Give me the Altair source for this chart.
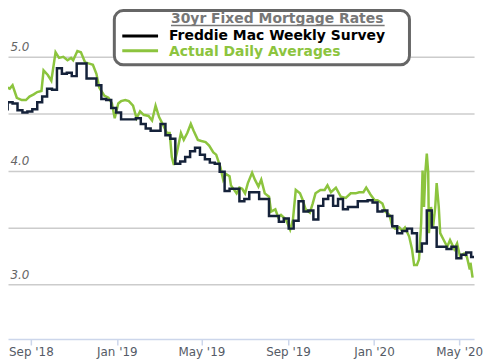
import altair as alt
import pandas as pd

# Freddie Mac weekly survey (week start dates, weekly)
freddie_start = "2018-07-16"
freddie_end = "2020-05-22"
freddie_values = [
    4.52, 4.54, 4.60, 4.59, 4.53, 4.51, 4.52, 4.54, 4.60, 4.65, 4.72, 4.71,
    4.90, 4.85, 4.86, 4.83, 4.94, 4.94, 4.81, 4.81, 4.75, 4.63, 4.62, 4.55,
    4.51, 4.45, 4.45, 4.45, 4.46, 4.41, 4.37, 4.35, 4.35, 4.41, 4.31, 4.28,
    4.06, 4.08, 4.12, 4.17, 4.20, 4.14, 4.10, 4.07, 4.06, 3.99, 3.82, 3.84,
    3.84, 3.73, 3.75, 3.81, 3.81, 3.75, 3.75, 3.60, 3.60, 3.55, 3.58, 3.49,
    3.56, 3.73, 3.64, 3.65, 3.57, 3.69, 3.75, 3.78, 3.69, 3.75, 3.66, 3.68,
    3.68, 3.73, 3.73, 3.74, 3.72, 3.64, 3.65, 3.60, 3.51, 3.45, 3.47, 3.49,
    3.45, 3.29, 3.36, 3.65, 3.50, 3.33, 3.33, 3.31, 3.33, 3.23, 3.26, 3.28,
    3.24,
]

# Actual daily averages
daily_dates = [
    "2018-07-19", "2018-07-26", "2018-08-02", "2018-08-06", "2018-08-12", "2018-08-19",
    "2018-08-25", "2018-08-30", "2018-09-05", "2018-09-10", "2018-09-16", "2018-09-19",
    "2018-09-25", "2018-09-30", "2018-10-06", "2018-10-11", "2018-10-17", "2018-10-23",
    "2018-10-28", "2018-10-31", "2018-11-06", "2018-11-11", "2018-11-17", "2018-11-23",
    "2018-11-28", "2018-12-03", "2018-12-07", "2018-12-14", "2018-12-20", "2018-12-25",
    "2018-12-29", "2019-01-03", "2019-01-07", "2019-01-13", "2019-01-18", "2019-01-24",
    "2019-01-29", "2019-02-03", "2019-02-08", "2019-02-15", "2019-02-20", "2019-02-25",
    "2019-03-02", "2019-03-07", "2019-03-13", "2019-03-17", "2019-03-20", "2019-03-23",
    "2019-03-27", "2019-04-02", "2019-04-06", "2019-04-11", "2019-04-16", "2019-04-20",
    "2019-04-26", "2019-05-01", "2019-05-07", "2019-05-12", "2019-05-18", "2019-05-22",
    "2019-05-28", "2019-06-01", "2019-06-05", "2019-06-10", "2019-06-12", "2019-06-20",
    "2019-06-24", "2019-06-28", "2019-07-02", "2019-07-06", "2019-07-12", "2019-07-16",
    "2019-07-21", "2019-07-25", "2019-07-30", "2019-08-05", "2019-08-08", "2019-08-14",
    "2019-08-18", "2019-08-22", "2019-08-29", "2019-09-04", "2019-09-08", "2019-09-12",
    "2019-09-18", "2019-09-22", "2019-09-26", "2019-10-02", "2019-10-06", "2019-10-10",
    "2019-10-17", "2019-10-23", "2019-10-27", "2019-11-01", "2019-11-08", "2019-11-15",
    "2019-11-22", "2019-11-29", "2019-12-06", "2019-12-11", "2019-12-17", "2019-12-21",
    "2019-12-27", "2020-01-02", "2020-01-06", "2020-01-13", "2020-01-17", "2020-01-23",
    "2020-01-27", "2020-01-31", "2020-02-06", "2020-02-10", "2020-02-14", "2020-02-20",
    "2020-02-24", "2020-02-27", "2020-03-02", "2020-03-05", "2020-03-08", "2020-03-10",
    "2020-03-12", "2020-03-14", "2020-03-16", "2020-03-18", "2020-03-19", "2020-03-22",
    "2020-03-25", "2020-03-28", "2020-03-30", "2020-04-02", "2020-04-04", "2020-04-09",
    "2020-04-14", "2020-04-18", "2020-04-24", "2020-04-28", "2020-05-02", "2020-05-08",
    "2020-05-12", "2020-05-16", "2020-05-17", "2020-05-20",
]
daily_values = [
    4.73, 4.74, 4.72, 4.75, 4.64, 4.62,
    4.62, 4.65, 4.67, 4.69, 4.70, 4.88,
    4.84, 4.79, 5.04, 4.99, 5.00, 4.97,
    4.99, 4.97, 5.05, 5.04, 4.95, 4.94,
    4.93, 4.85, 4.73, 4.66, 4.64, 4.59,
    4.46, 4.59, 4.61, 4.62, 4.61, 4.57,
    4.46, 4.52, 4.49, 4.48, 4.44, 4.57,
    4.47, 4.41, 4.33, 4.33, 4.12, 4.05,
    4.15, 4.33, 4.27, 4.33, 4.41, 4.35,
    4.27, 4.26, 4.25, 4.22, 4.16, 4.14,
    4.03, 3.92, 3.97, 3.95, 3.87, 3.80,
    3.85, 3.84, 3.80, 3.89, 3.98, 3.92,
    3.86, 3.92, 3.80, 3.77, 3.64, 3.66,
    3.59, 3.61, 3.57, 3.48, 3.57, 3.83,
    3.80, 3.74, 3.66, 3.63, 3.71, 3.80,
    3.83, 3.83, 3.87, 3.81, 3.85, 3.77,
    3.76, 3.80, 3.80, 3.81, 3.81, 3.85,
    3.79, 3.74, 3.74, 3.71, 3.64, 3.61,
    3.51, 3.49, 3.50, 3.47, 3.50, 3.42,
    3.31, 3.17, 3.17, 3.22, 3.54, 4.00,
    3.68, 3.99, 4.15, 3.98, 3.45, 3.68,
    3.51, 3.68, 3.89, 3.68, 3.45, 3.39,
    3.33, 3.39, 3.31, 3.36, 3.25, 3.27,
    3.24, 3.13, 3.19, 3.06,
]

tick_dates = [(2018, 9), (2019, 1), (2019, 5), (2019, 9), (2020, 1), (2020, 5)]
y_grid_values = [3.0, 3.5, 4.0, 4.5, 5.0]

legend_title = "30yr Fixed Mortgage Rates"
legend_labels = ["Freddie Mac Weekly Survey", "Actual Daily Averages"]

NAVY = "#15223a"
GREEN = "#8cc43e"
FONT = "DejaVu Sans"

fm = pd.DataFrame({
    "date": pd.date_range(freddie_start, periods=len(freddie_values), freq="7D"),
    "rate": freddie_values,
})
fm = pd.concat([fm, pd.DataFrame({"date": [pd.Timestamp(freddie_end)], "rate": [freddie_values[-1]]})],
               ignore_index=True)
daily = pd.DataFrame({"date": pd.to_datetime(daily_dates), "rate": daily_values})

x_enc = alt.X(
    "date:T",
    scale=alt.Scale(domain=[alt.DateTime(year=2018, month=7, date=30, hours=12),
                            alt.DateTime(year=2020, month=5, date=22, hours=2)]),
    axis=alt.Axis(
        values=[alt.DateTime(year=y, month=m, date=1) for y, m in tick_dates],
        format="%b '%y", title=None, grid=False,
        domainColor="#ccd6eb", domainWidth=1.5, tickColor="#ccd6eb", tickSize=6, tickWidth=1.5,
        labelPadding=2, labelColor="#555b66", labelFontSize=12, labelFont=FONT,
    ),
)
y_enc = alt.Y(
    "rate:Q",
    scale=alt.Scale(domain=[2.52, 5.419], nice=False, zero=False),
    axis=alt.Axis(
        values=y_grid_values,
        labelExpr="datum.value % 1 === 0 ? format(datum.value, '.1f') : ''",
        title=None, domain=False, ticks=False, tickSize=0,
        labelAlign="left", labelPadding=-2, labelBaseline="alphabetic", labelOffset=-6,
        labelFontStyle="italic", labelColor="#666666", labelFontSize=12, labelFont=FONT,
        gridColor="#cccccc", gridWidth=1.5,
    ),
)

green_line = alt.Chart(daily).mark_line(color=GREEN, strokeWidth=2.5, clip=True).encode(x=x_enc, y=y_enc)
black_line = alt.Chart(fm).mark_line(color=NAVY, strokeWidth=2.5, interpolate="step-after", clip=True).encode(
    x="date:T", y="rate:Q")

one = pd.DataFrame({"k": [0]})
box = alt.Chart(one).mark_rect(fill="white", stroke="#666666", strokeWidth=3, cornerRadius=9).encode(
    x=alt.value(107), x2=alt.value(404), y=alt.value(1.5), y2=alt.value(56))
title_txt = alt.Chart(pd.DataFrame({"label": [legend_title]})).mark_text(
    align="left", baseline="alphabetic", font=FONT, fontSize=14, fontWeight="bold", color="#777777"
).encode(text="label:N", x=alt.value(164), y=alt.value(14))
underline = alt.Chart(one).mark_rule(color="#777777", strokeWidth=1.5).encode(
    x=alt.value(164), x2=alt.value(379), y=alt.value(16.5))
sym1 = alt.Chart(one).mark_rule(color="#000000", strokeWidth=3).encode(
    x=alt.value(115), x2=alt.value(151), y=alt.value(27))
sym2 = alt.Chart(one).mark_rule(color=GREEN, strokeWidth=3).encode(
    x=alt.value(115), x2=alt.value(151), y=alt.value(42))
lab1 = alt.Chart(pd.DataFrame({"label": [legend_labels[0]]})).mark_text(
    align="left", baseline="alphabetic", font=FONT, fontSize=14, fontWeight="bold", color="#000000"
).encode(text="label:N", x=alt.value(162), y=alt.value(31.5))
lab2 = alt.Chart(pd.DataFrame({"label": [legend_labels[1]]})).mark_text(
    align="left", baseline="alphabetic", font=FONT, fontSize=14, fontWeight="bold", color=GREEN
).encode(text="label:N", x=alt.value(162), y=alt.value(47))

chart = alt.layer(green_line, black_line, box, title_txt, underline, sym1, sym2, lab1, lab2).properties(
    width=469, height=332, padding=0, background="white"
).configure_view(stroke=None)

chart.save("out.html", embed_options={"renderer": "svg", "actions": False})
